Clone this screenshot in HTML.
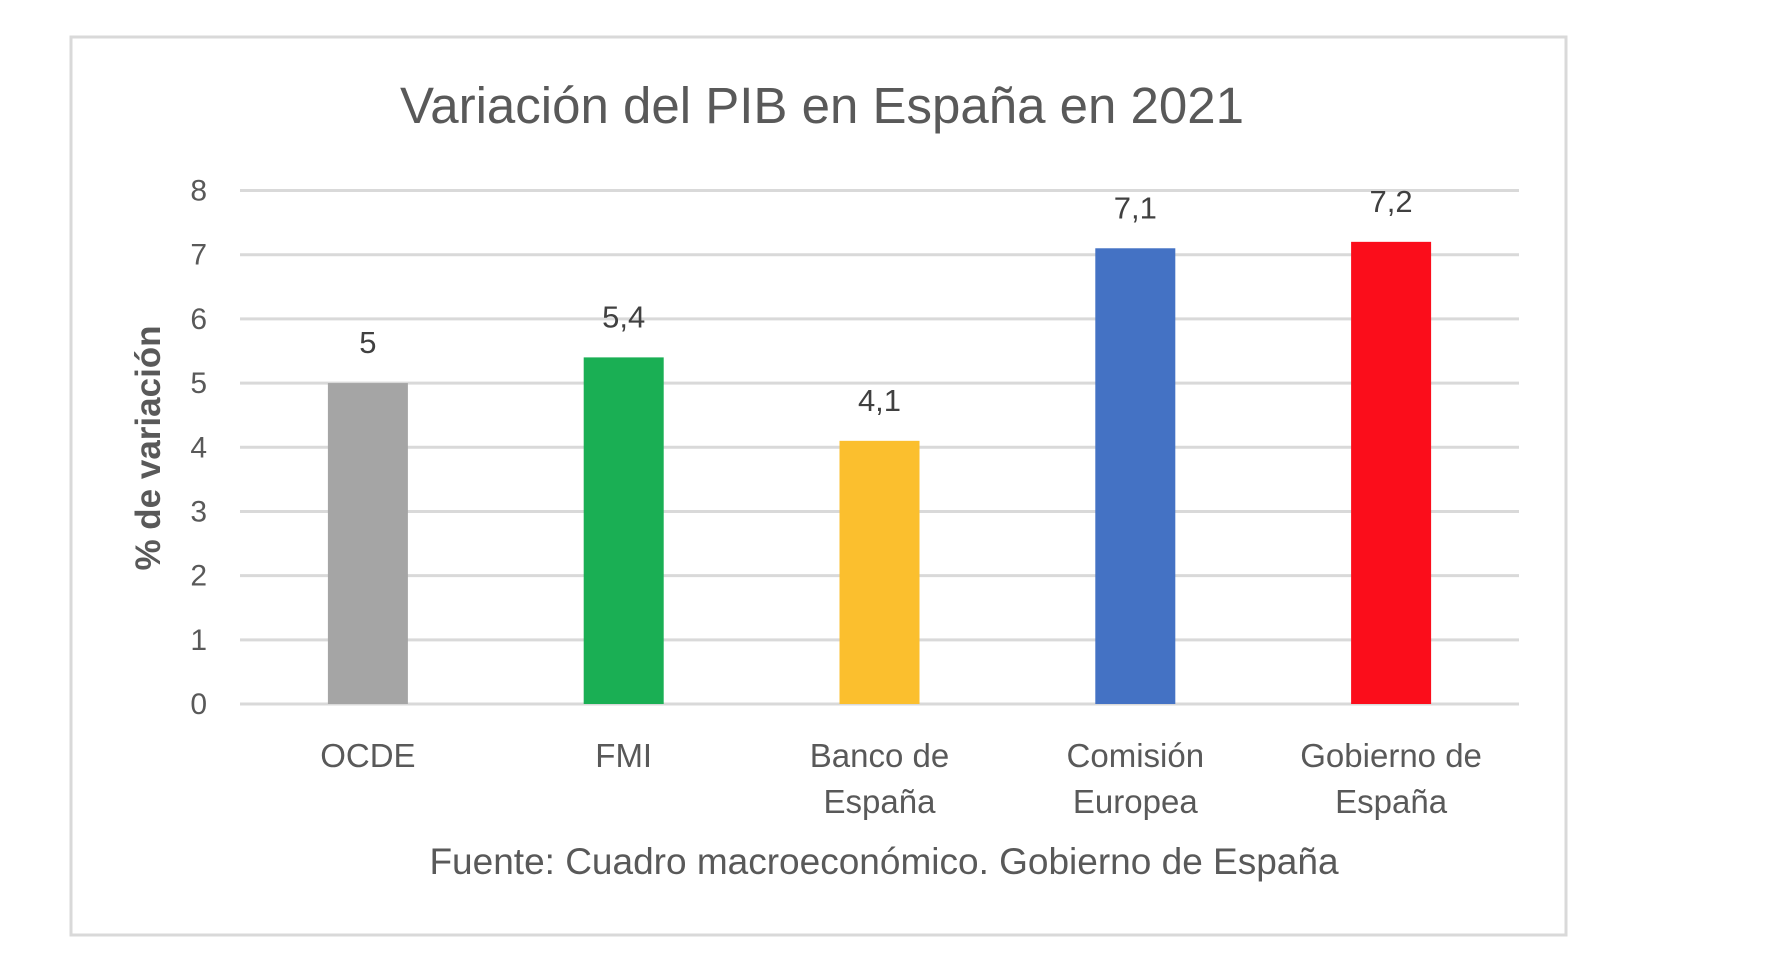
<!DOCTYPE html>
<html><head><meta charset="utf-8"><style>
html,body{margin:0;padding:0;background:#fff;}
svg{display:block;font-family:"Liberation Sans",sans-serif;}
</style></head><body>
<svg id="chart" width="1780" height="970" viewBox="0 0 1780 970">
<rect x="71" y="37" width="1495" height="898" fill="#fff" stroke="#d9d9d9" stroke-width="3"/>
<text x="822" y="123" text-anchor="middle" font-size="51" fill="#595959">Variación del PIB en España en 2021</text>
<text transform="translate(160,448) rotate(-90)" text-anchor="middle" font-size="35" font-weight="bold" fill="#595959">% de variación</text>
<text x="884" y="874" text-anchor="middle" font-size="37" fill="#595959">Fuente: Cuadro macroeconómico. Gobierno de España</text>
<g id="grid"></g><g id="bars"></g><g id="labels"></g>
</svg>
<script>
const categories=[["OCDE"],["FMI"],["Banco de","España"],["Comisión","Europea"],["Gobierno de","España"]];
const values=[5,5.4,4.1,7.1,7.2];
const valueLabels=["5","5,4","4,1","7,1","7,2"];
const colors=["#a5a5a5","#1aaf54","#fbbf2e","#4472c4","#fb0d1b"];
const yTicks=[0,1,2,3,4,5,6,7,8];
const NS="http://www.w3.org/2000/svg";
const x0=240,x1=1519,yTop=190.5,yBot=704,yMax=8;
const y=v=>yBot-(v/yMax)*(yBot-yTop);
const band=(x1-x0)/categories.length;
const xc=i=>x0+band*(i+0.5);
function mk(t,a,p){const e=document.createElementNS(NS,t);for(const k in a)e.setAttribute(k,a[k]);p.appendChild(e);return e;}
const g=document.getElementById('grid'),b=document.getElementById('bars'),l=document.getElementById('labels');
yTicks.forEach(t=>{
 const ln=mk('line',{x1:x0,x2:x1,y1:y(t),y2:y(t),stroke:'#d9d9d9','stroke-width':3},g);
 
 
 const tx=mk('text',{x:207,y:y(t)+10,'text-anchor':'end','font-size':30,fill:'#595959'},g);
 tx.textContent=t;
 
 
});
values.forEach((v,i)=>{
 const r=mk('rect',{x:xc(i)-40,y:y(v),width:80,height:y(0)-y(v),fill:colors[i]},b);
 
 
 const vt=mk('text',{x:xc(i),y:y(v)-30,'text-anchor':'middle','font-size':31,fill:'#404040'},l);
 vt.textContent=valueLabels[i];
 
 
 categories[i].forEach((line,j)=>{
  const ct=mk('text',{x:xc(i),y:767+j*46,'text-anchor':'middle','font-size':33,fill:'#595959'},l);
  ct.textContent=line;
  
  
 });
});
</script>
</body></html>
